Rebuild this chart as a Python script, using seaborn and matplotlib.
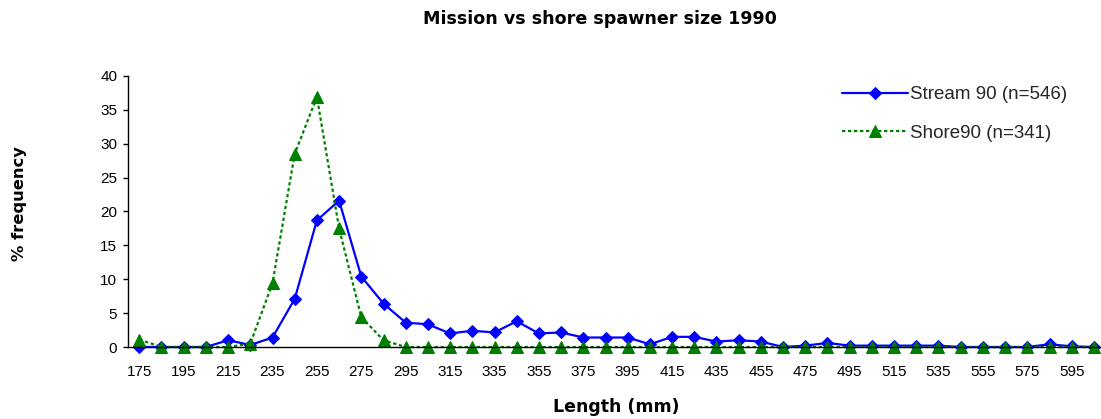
import matplotlib
matplotlib.use("Agg")
import matplotlib.pyplot as plt
import seaborn as sns
import numpy as np
import pandas as pd

# ---- data ----
lengths = [175, 185, 195, 205, 215, 225, 235, 245, 255, 265, 275, 285, 295, 305,
           315, 325, 335, 345, 355, 365, 375, 385, 395, 405, 415, 425, 435, 445,
           455, 465, 475, 485, 495, 505, 515, 525, 535, 545, 555, 565, 575, 585,
           595, 605]
stream90 = [0.0, 0.0, 0.0, 0.0, 1.0, 0.3, 1.4, 7.1, 18.7, 21.6, 10.4, 6.4, 3.6, 3.35,
            2.0, 2.4, 2.15, 3.8, 2.0, 2.15, 1.4, 1.4, 1.4, 0.4, 1.5, 1.5, 0.8, 1.0,
            0.8, 0.0, 0.2, 0.6, 0.2, 0.2, 0.2, 0.2, 0.2, 0.0, 0.0, 0.0, 0.0, 0.4,
            0.1, 0.0]
shore90 = [1.1, 0.0, 0.0, 0.0, 0.0, 0.5, 9.4, 28.5, 36.9, 17.5, 4.4, 1.0, 0.0, 0.0,
           0.0, 0.0, 0.0, 0.0, 0.0, 0.0, 0.0, 0.0, 0.0, 0.0, 0.0, 0.0, 0.0, 0.0,
           0.0, 0.0, 0.0, 0.0, 0.0, 0.0, 0.0, 0.0, 0.0, 0.0, 0.0, 0.0, 0.0, 0.0,
           0.0, 0.0]
series_names = ["Stream 90 (n=546)", "Shore90 (n=341)"]
title = "Mission vs shore spawner size 1990"
xlabel = "Length (mm)"
ylabel = "% frequency"

sns.set_style("white")
plt.rcParams["font.family"] = ["Liberation Sans", "DejaVu Sans"]

n = len(lengths)
df = pd.DataFrame({"pos": np.arange(n), "length": lengths,
                   "stream": stream90, "shore": shore90})

W, H = 1101, 419
fig = plt.figure(figsize=(W / 100, H / 100), dpi=100)
left, right, top, bottom = 128.2, 1105.0, 76.0, 347.0
ax = fig.add_axes([left / W, 1 - bottom / H, (right - left) / W, (bottom - top) / H])

sns.lineplot(data=df, x="pos", y="stream", ax=ax, color="#0000FF", lw=1.6,
             marker="D", markersize=6.2, markeredgecolor="#0000FF",
             markerfacecolor="#0000FF", label=series_names[0], clip_on=False)
sns.lineplot(data=df, x="pos", y="shore", ax=ax, color="#008000", lw=1.6,
             linestyle=(0, (1.5, 1.2)), marker="^", markersize=8.5,
             markeredgecolor="#008000", markerfacecolor="#008000",
             label=series_names[1], clip_on=False)

ax.set_xlim(-0.5, n - 0.5)
ax.set_ylim(0, 40)
ax.set_yticks(np.arange(0, 41, 5))
ax.set_xticks(np.arange(0, n, 2))
ax.set_xticklabels([str(lengths[i]) for i in range(0, n, 2)])
ax.set_xticks(np.arange(-0.5, n, 1), minor=True)
ax.tick_params(axis="x", which="major", length=0, pad=13, labelsize=11, colors="black")
ax.tick_params(axis="x", which="minor", length=3, width=1, direction="out", color="black")
ax.tick_params(axis="y", which="major", length=3.6, width=1, direction="out",
               pad=4.3, labelsize=11, colors="black", left=True)
ax.set_xlabel("")
ax.set_ylabel("")
for s in ["top", "right"]:
    ax.spines[s].set_visible(False)
for s in ["left", "bottom"]:
    ax.spines[s].set_color("black")
    ax.spines[s].set_linewidth(1.0)
ax.grid(False)

handles, labels = ax.get_legend_handles_labels()
ax.legend(handles, labels, loc="upper left",
          bbox_to_anchor=(842 / W, 1 - 86 / H), bbox_transform=fig.transFigure,
          frameon=False, fontsize=13.5, handlelength=3.5, handletextpad=0.15,
          labelspacing=1.15, borderpad=0, borderaxespad=0)

lab_font = dict(family="DejaVu Sans", fontweight="bold", color="black")
fig.text(600 / W, 1 - 19 / H, title, ha="center", va="center", fontsize=12.6, **lab_font)
fig.text(616 / W, 1 - 407 / H, xlabel, ha="center", va="center", fontsize=12.5, **lab_font)
fig.text(20 / W, 1 - 204 / H, ylabel, ha="center", va="center", rotation=90,
         fontsize=11.8, **lab_font)

fig.savefig("out.png", dpi=100, facecolor="white")
